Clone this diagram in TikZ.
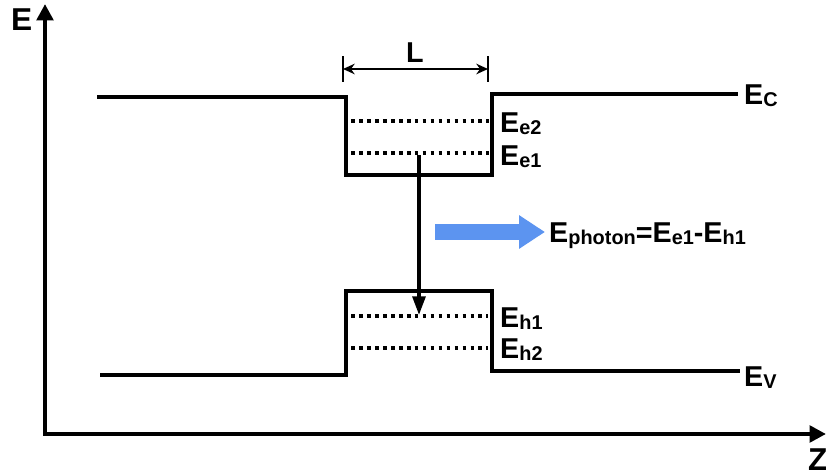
\documentclass[tikz,border=0pt]{standalone}
\usepackage{fontspec}
\setmainfont{Liberation Sans}
\usetikzlibrary{arrows.meta,positioning}
\newcommand{\lvl}[2]{#1\raisebox{-2.5pt}{\fontsize{17}{17}\selectfont #2}}
\definecolor{photonblue}{RGB}{92,148,240}
\tikzset{
	band/.style={line width=4.2pt, line join=miter},
	level/.style={line width=2.8pt, dash pattern=on 3.2pt off 3.6pt},
	axis/.style={line width=4pt, -{Triangle[length=14pt,width=14pt]}},
	dimline/.style={line width=2.3pt},
	lbl/.style={inner sep=0pt, anchor=base west, font=\fontsize{24.5}{24.5}\selectfont\bfseries},
	axlbl/.style={inner sep=0pt, anchor=base west, font=\fontsize{27}{27}\selectfont\bfseries},
	photon/.style={line width=14pt, color=photonblue, -{Triangle[length=22pt,width=27pt]}}
}

\begin{document}
\begin{tikzpicture}[x=0.03cm, y=-0.03cm]
	\useasboundingbox (0,0) rectangle (826,476);

	% --- Axes ---
	\coordinate (origin) at (45,434);
	\coordinate (etop) at (45,4);
	\coordinate (zstart) at (43,434);
	\coordinate (zend) at (826,434);
	\draw[axis] (origin) -- (etop);
	\draw[axis] (zstart) -- (zend);
	\node[axlbl] (elabel) at (11,31) {E};
	\node[axlbl] (zlabel) at (808,470) {Z};

	% --- Conduction band ---
	\coordinate (cb1) at (97,97);
	\coordinate (cb2) at (346,97);
	\coordinate (cb3) at (346,175);
	\coordinate (cb4) at (492,175);
	\coordinate (cb5) at (492,94);
	\coordinate (cb6) at (738,94);
	\draw[band] (cb1) -- (cb2) -- (cb3) -- (cb4) -- (cb5) -- (cb6);

	% --- Valence band ---
	\coordinate (vb1) at (100,375);
	\coordinate (vb2) at (346,375);
	\coordinate (vb3) at (346,291);
	\coordinate (vb4) at (492,291);
	\coordinate (vb5) at (492,371);
	\coordinate (vb6) at (740,371);
	\draw[band] (vb1) -- (vb2) -- (vb3) -- (vb4) -- (vb5) -- (vb6);

	% --- Confined levels ---
	\coordinate (e2l) at (351,121);
	\coordinate (e2r) at (489,121);
	\coordinate (e1l) at (351,153);
	\coordinate (e1r) at (489,153);
	\coordinate (h1l) at (351,316);
	\coordinate (h1r) at (488,316);
	\coordinate (h2l) at (351,348);
	\coordinate (h2r) at (488,348);
	\draw[level] (e2l) -- (e2r);
	\draw[level] (e1l) -- (e1r);
	\draw[level] (h1l) -- (h1r);
	\draw[level] (h2l) -- (h2r);

	% --- Labels ---
	\node[lbl] (ec) at (744,104) {\lvl{E}{C}};
	\node[lbl] (ev) at (744,386) {\lvl{E}{V}};
	\node[lbl] (ee2) at (500,132) {\lvl{E}{e2}};
	\node[lbl] (ee1) at (500,165) {\lvl{E}{e1}};
	\node[lbl] (eh1) at (500,327) {\lvl{E}{h1}};
	\node[lbl] (eh2) at (500,358) {\lvl{E}{h2}};

	% --- Well width ---
	\coordinate (la) at (343,56);
	\coordinate (lb) at (343,82);
	\coordinate (lc) at (488,56);
	\coordinate (ld) at (488,82);
	\coordinate (lleft) at (343,69);
	\coordinate (lright) at (488,69);
	\draw[dimline] (la) -- (lb);
	\draw[dimline] (lc) -- (ld);
	\draw[dimline, {Stealth[length=10pt,width=9pt]}-{Stealth[length=10pt,width=9pt]}] (lleft) -- (lright);
	\node[lbl] (lwidth) at (406,62) {L};

	% --- Transition ---
	\coordinate (trtop) at (419,155);
	\coordinate (trbot) at (419,315);
	\draw[line width=3pt, -{Triangle[length=16pt,width=11pt]}] (trtop) -- (trbot);

	% --- Photon ---
	\coordinate (phstart) at (435,232);
	\coordinate (phend) at (545,232);
	\draw[photon] (phstart) -- (phend);
	\node[lbl] (ephoton) at (549,242) {\lvl{E}{photon}=\lvl{E}{e1}-\lvl{E}{h1}};

\end{tikzpicture}
\end{document}
